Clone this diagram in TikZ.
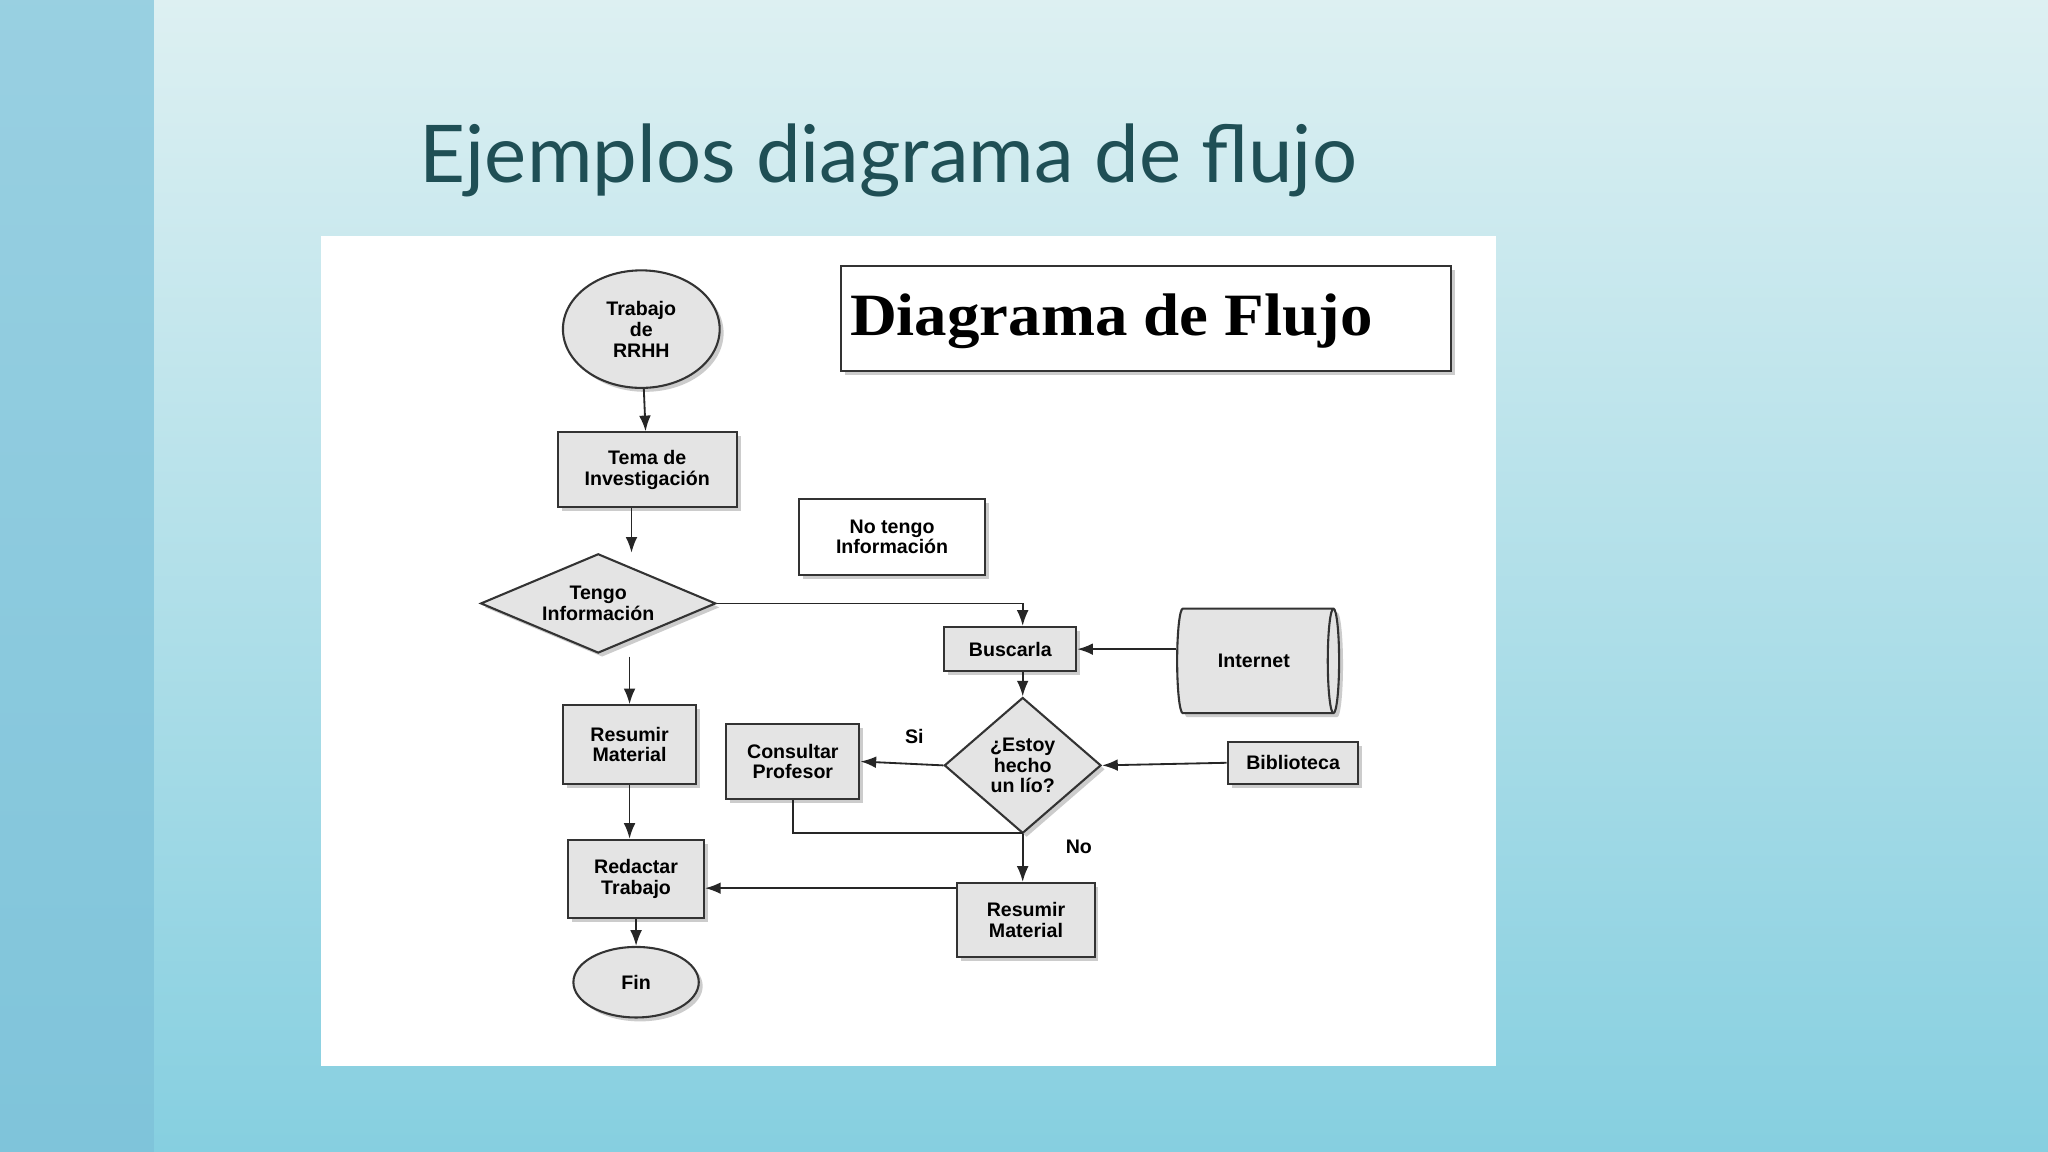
\documentclass[tikz,border=0pt]{standalone}
\usepackage{fontspec}
\setmainfont{Liberation Sans}
\newfontfamily\titlefont{Lato}
\newfontfamily\serifb{Liberation Serif}
\usetikzlibrary{shapes.geometric,shadows,arrows.meta}
\definecolor{bgl}{HTML}{DDF0F2}
\definecolor{bgd}{HTML}{86CFE0}
\definecolor{strip}{HTML}{7FC4DA}
\definecolor{ttl}{HTML}{1F4F55}
\definecolor{boxf}{HTML}{E4E4E4}
\begin{document}
\begin{tikzpicture}[x=1pt,y=-1pt,
  box/.style={draw=black!80,line width=1.6pt,fill=boxf,drop shadow={shadow xshift=3pt,shadow yshift=-3pt,opacity=0.4},
     font=\fontsize{15}{16}\selectfont\bfseries,align=center,inner sep=2pt},
  arr/.style={-{Latex[length=12pt,width=9pt]},line width=1.4pt,black!85},
  ln/.style={line width=1.4pt,black!85}]
\useasboundingbox (0,0) rectangle (1568,882);
\shade[top color=strip!80,bottom color=strip] (0,0) rectangle (118,882);
\shade[top color=bgl,bottom color=bgd] (118,0) rectangle (1568,882);
\node[font=\titlefont\fontsize{61}{66}\selectfont,text=ttl,anchor=west] (title) at (318,123) {Ejemplos diagrama de flujo};
\fill[white] (246,181) rectangle (1145,816);
% title box
\node[box,fill=white,minimum width=467pt,minimum height=80pt,anchor=north west,inner sep=0pt] (dt) at (643,203) {};
\node[font=\serifb\bfseries\fontsize{46}{50}\selectfont,anchor=west,xscale=1.08] (dtt) at (647,246) {Diagrama de Flujo};
\node[box,ellipse,minimum width=120pt,minimum height=90pt] (trab) at (491,252) {Trabajo\\de\\RRHH};
\node[box,minimum width=137pt,minimum height=57pt] (tema) at (495.5,359.5) {Tema de\\Investigación};
\node[box,diamond,aspect=2.4,minimum width=180pt,minimum height=76pt,inner sep=0pt] (tengo) at (458,462) {Tengo\\Información};
\node[box,fill=white,minimum width=142pt,minimum height=58pt] (notengo) at (683,411) {No tengo\\Información};
\node[box,minimum width=101pt,minimum height=34pt] (busc) at (773.5,497) {Buscarla};
\node[box,cylinder,shape border rotate=0,aspect=0.6,minimum width=80pt,minimum height=124pt] (inet) at (960,506) {Internet};
\node[box,minimum width=102pt,minimum height=60pt] (res1) at (482,570) {Resumir\\Material};
\node[box,minimum width=102pt,minimum height=58pt] (cons) at (607,583) {Consultar\\Profesor};
\node[box,diamond,aspect=1.15,minimum width=120pt,minimum height=104pt,inner sep=0pt] (estoy) at (783,586) {¿Estoy\\hecho\\un lío?};
\node[box,minimum width=100pt,minimum height=32pt] (bib) at (990,584) {Biblioteca};
\node[box,minimum width=104pt,minimum height=60pt] (red) at (487,673) {Redactar\\Trabajo};
\node[box,minimum width=105pt,minimum height=57pt] (res2) at (785.5,704.5) {Resumir\\Material};
\node[box,ellipse,minimum width=96pt,minimum height=54pt] (fin) at (487,752) {Fin};
\node[font=\fontsize{15}{16}\selectfont\bfseries] (si) at (700,564) {Si};
\node[font=\fontsize{15}{16}\selectfont\bfseries] (no) at (826,648) {No};
% connectors
\draw[arr] (trab) -- (tema);
\draw[arr] ([xshift=-12pt]tema.south) -- ([xshift=-12pt]tema.south |- tengo.north);
\draw[arr] (tengo.east) -| (busc.north -| estoy);
\draw[arr] (inet.west |- busc) -- (busc.east);
\draw[arr] (busc.south -| estoy) -- (estoy.north);
\draw[arr] (bib.west) -- (estoy.east);
\draw[arr] (estoy.west) -- (cons.east);
\coordinate (j) at (783,638);
\draw[ln] (cons.south) |- (j);
\draw[arr] (estoy.south) -- (res2.north -| estoy);
\draw[arr] (res2.west |- 0,680) -- (red.east |- 0,680);
\draw[arr] ([yshift=-2pt]tengo.south -| res1) -- (res1.north);
\draw[arr] (res1.south) -- (red.north -| res1);
\draw[arr] (red) -- (fin);
\end{tikzpicture}
\end{document}
